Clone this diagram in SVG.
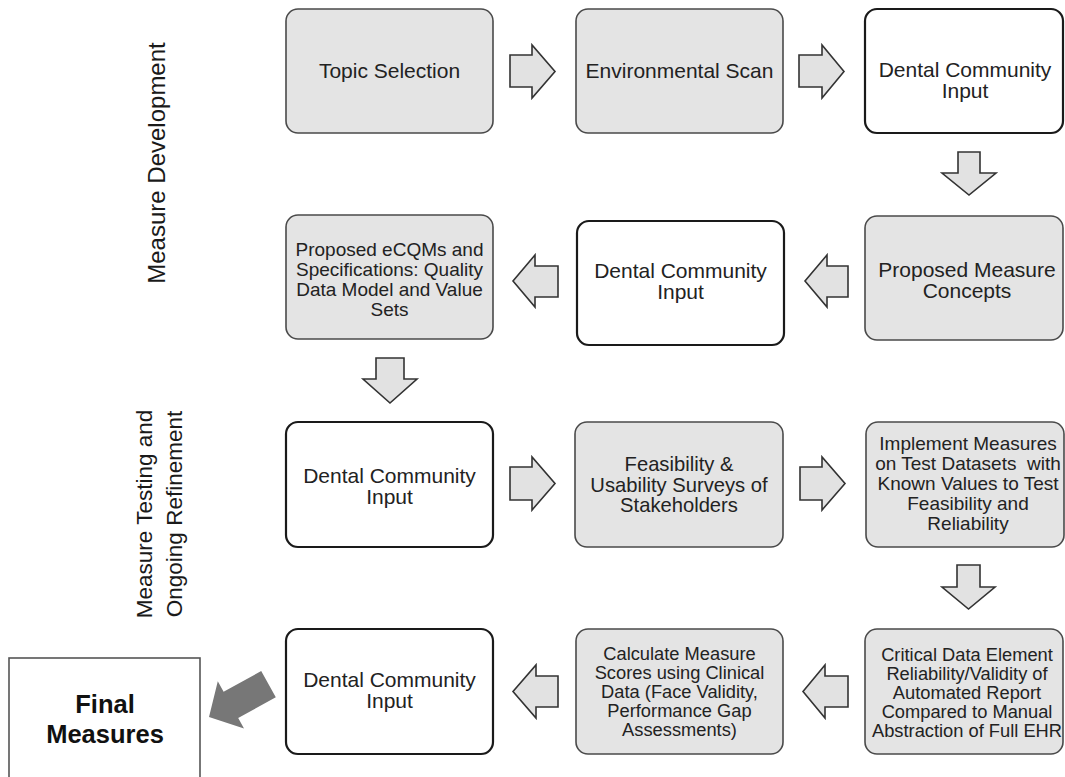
<svg xmlns="http://www.w3.org/2000/svg" width="1065" height="777" viewBox="0 0 1065 777">
<style>
  text { font-family: "Liberation Sans", Arial, sans-serif; fill: #222; text-anchor: middle; }
  .g { fill: #e4e4e4; stroke: #4a4a4a; stroke-width: 1.6; }
  .w { fill: #ffffff; stroke: #1a1a1a; stroke-width: 2.2; }
  .arr { fill: #e2e2e2; stroke: #333; stroke-width: 1.6; stroke-linejoin: miter; }
  .t21 { font-size: 21px; }
  .t20 { font-size: 20.2px; }
  .t19 { font-size: 19px; }
  .t18 { font-size: 18.3px; }
  .lbl { font-size: 24px; fill: #1a1a1a; }
  .lbl2 { font-size: 22.5px; fill: #1a1a1a; }
  .fin { font-size: 25.5px; font-weight: bold; fill: #111; }
</style>
<rect width="1065" height="777" fill="#ffffff"/>

<g id="label-development">
  <text class="lbl" transform="translate(165,163) rotate(-90)">Measure Development</text>
</g>
<g id="label-testing">
  <text class="lbl2" transform="translate(152,514) rotate(-90)">Measure Testing and</text>
  <text class="lbl2" transform="translate(182,514) rotate(-90)">Ongoing Refinement</text>
</g>

<g id="n-topic">
  <rect class="g" x="286" y="9" width="207" height="124" rx="12"/>
  <text class="t21" x="389.5" y="78">Topic Selection</text>
</g>
<g id="n-envscan">
  <rect class="g" x="576" y="9" width="207" height="124" rx="12"/>
  <text class="t21" x="679.5" y="78">Environmental Scan</text>
</g>
<g id="n-dci1">
  <rect class="w" x="865" y="9" width="198" height="124" rx="12"/>
  <text class="t21" x="965" y="77">Dental Community</text>
  <text class="t21" x="965" y="98">Input</text>
</g>

<g id="n-ecqm">
  <rect class="g" x="286" y="215" width="207" height="124" rx="12"/>
  <text class="t19" x="389.5" y="256">Proposed eCQMs and</text>
  <text class="t19" x="389.5" y="276">Specifications: Quality</text>
  <text class="t19" x="389.5" y="296">Data Model and Value</text>
  <text class="t19" x="389.5" y="316">Sets</text>
</g>
<g id="n-dci2">
  <rect class="w" x="577" y="221" width="207" height="124" rx="12"/>
  <text class="t21" x="680.5" y="278">Dental Community</text>
  <text class="t21" x="680.5" y="299">Input</text>
</g>
<g id="n-concepts">
  <rect class="g" x="865" y="216" width="198" height="124" rx="12"/>
  <text class="t21" x="967" y="277">Proposed Measure</text>
  <text class="t21" x="967" y="298">Concepts</text>
</g>

<g id="n-dci3">
  <rect class="w" x="286" y="422" width="207" height="125" rx="12"/>
  <text class="t21" x="389.5" y="483">Dental Community</text>
  <text class="t21" x="389.5" y="504">Input</text>
</g>
<g id="n-feas">
  <rect class="g" x="575" y="422" width="208" height="125" rx="12"/>
  <text class="t20" x="679" y="471">Feasibility &amp;</text>
  <text class="t20" x="679" y="491.5">Usability Surveys of</text>
  <text class="t20" x="679" y="512">Stakeholders</text>
</g>
<g id="n-implement">
  <rect class="g" x="866" y="422" width="198" height="125" rx="12"/>
  <text class="t19" x="968" y="450">Implement Measures</text>
  <text class="t19" x="968" y="470" style="white-space:pre">on Test Datasets  with</text>
  <text class="t19" x="968" y="490">Known Values to Test</text>
  <text class="t19" x="968" y="510">Feasibility and</text>
  <text class="t19" x="968" y="530">Reliability</text>
</g>

<g id="n-final">
  <rect x="9" y="658" width="191" height="140" fill="#ffffff" stroke="#555" stroke-width="1.6"/>
  <text class="fin" x="105" y="713">Final</text>
  <text class="fin" x="105" y="743">Measures</text>
</g>
<g id="n-dci4">
  <rect class="w" x="286" y="629" width="207" height="125" rx="12"/>
  <text class="t21" x="389.5" y="687">Dental Community</text>
  <text class="t21" x="389.5" y="708">Input</text>
</g>
<g id="n-calc">
  <rect class="g" x="576" y="629" width="207" height="125" rx="12"/>
  <text class="t18" x="679.5" y="660">Calculate Measure</text>
  <text class="t18" x="679.5" y="679">Scores using Clinical</text>
  <text class="t18" x="679.5" y="698">Data (Face Validity,</text>
  <text class="t18" x="679.5" y="717">Performance Gap</text>
  <text class="t18" x="679.5" y="736">Assessments)</text>
</g>
<g id="n-critical">
  <rect class="g" x="865" y="629" width="198" height="125" rx="12"/>
  <text class="t18" x="967" y="661">Critical Data Element</text>
  <text class="t18" x="967" y="680">Reliability/Validity of</text>
  <text class="t18" x="967" y="699">Automated Report</text>
  <text class="t18" x="967" y="718">Compared to Manual</text>
  <text class="t18" x="967" y="737">Abstraction of Full EHR</text>
</g>

<g id="connectors">
  <polygon class="arr" points="510,55 532,55 532,45 555,71.5 532,98 532,87 510,87"/>
  <polygon class="arr" points="799,55 822,55 822,45 844,71.5 822,98 822,87 799,87"/>
  <polygon class="arr" points="958,152 980,152 980,173 996,173 969,195 942,173 958,173"/>
  <polygon class="arr" points="848,266 827,266 827,255 805,281 827,307 827,297 848,297"/>
  <polygon class="arr" points="558,266 535,266 535,255 513,281 535,307 535,297 558,297"/>
  <polygon class="arr" points="376,358 404,358 404,379 417,379 390,403 363,379 376,379"/>
  <polygon class="arr" points="510,467 532,467 532,457 555,483.5 532,510 532,500 510,500"/>
  <polygon class="arr" points="800,467 822,467 822,457 845,483.5 822,510 822,500 800,500"/>
  <polygon class="arr" points="957,565 980,565 980,587 995,587 968.5,609 942,587 957,587"/>
  <polygon class="arr" points="848,676 825,676 825,665 803,691.5 825,718 825,707 848,707"/>
  <polygon class="arr" points="558,676 536,676 536,665 513,691.5 536,718 536,707 558,707"/>
  <polygon points="209,717 217.8,681.3 223.6,691.8 261.2,671 275.8,697.2 238.2,718 244,728.5" fill="#777"/>
</g>
</svg>
